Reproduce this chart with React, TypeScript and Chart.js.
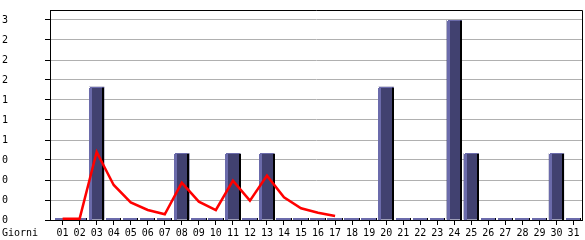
import React, { useEffect, useRef } from "react";
import { Chart, registerables } from "chart.js";

Chart.register(...registerables);

const days = ["01","02","03","04","05","06","07","08","09","10","11","12","13","14","15","16","17","18","19","20","21","22","23","24","25","26","27","28","29","30","31"];
const visits = [0,0,2,0,0,0,0,1,0,0,1,0,1,0,0,0,0,0,0,2,0,0,0,3,1,0,0,0,0,1,0];
const trend: (number | null)[] = [0.02,0.02,1.02,0.525,0.265,0.15,0.085,0.56,0.275,0.15,0.59,0.29,0.665,0.34,0.175,0.11,0.06,null,null,null,null,null,null,null,null,null,null,null,null,null,null];
const yTickValues = [0,0.3,0.6,0.9,1.2,1.5,1.8,2.1,2.4,2.7,3.0];
const yTickLabels = ["0","0","0","0","1","1","1","2","2","2","3"];
const xAxisName = "Giorni";

const FONT = "DejaVu Sans Mono";
const LAVENDER = "#6b6bab";
const FILL = "#414170";

const bar3d = {
  id: "bar3d",
  beforeDatasetsDraw(chart: any) {
    const { ctx, chartArea: a } = chart;
    ctx.save();
    ctx.strokeStyle = "#000";
    ctx.lineWidth = 1;
    ctx.beginPath();
    ctx.moveTo(a.left, a.top + 0.5);
    ctx.lineTo(a.right + 0.5, a.top + 0.5);
    ctx.lineTo(a.right + 0.5, a.bottom);
    ctx.stroke();
    ctx.restore();
  },
  afterDatasetDraw(chart: any, args: any) {
    const meta = args.meta;
    if (meta.type !== "bar") return;
    const ctx = chart.ctx;
    ctx.save();
    meta.data.forEach((el: any) => {
      const p = el.getProps(["x", "y", "base", "width"], true);
      const l = Math.round(p.x - p.width / 2);
      const r = Math.round(p.x + p.width / 2);
      const top = Math.round(p.y);
      const base = Math.round(p.base);
      if (base - top < 2) {
        ctx.fillStyle = LAVENDER;
        ctx.fillRect(l, base - 2, r - l, 2);
        ctx.fillStyle = "#000";
        ctx.fillRect(r - 1, base - 2, 1, 2);
      } else {
        ctx.fillStyle = LAVENDER;
        ctx.fillRect(l, top, 3, base - top);
        ctx.fillRect(l, top, r - l - 2, 1);
        ctx.fillStyle = "#000";
        ctx.fillRect(r - 2, top + 1, 2, base - top - 1);
        ctx.fillStyle = "#fff";
        ctx.fillRect(l, top, 1, 1);
      }
    });
    ctx.restore();
  },
  afterDraw(chart: any) {
    const ctx = chart.ctx;
    ctx.save();
    ctx.font = `10px "${FONT}"`;
    ctx.fillStyle = "#000";
    ctx.textAlign = "left";
    ctx.textBaseline = "middle";
    ctx.fillText(xAxisName, 2, 233);
    ctx.restore();
  },
};

export default function App() {
  const ref = useRef<HTMLCanvasElement>(null);
  useEffect(() => {
    const chart = new Chart(ref.current!, {
      type: "bar",
      data: {
        datasets: [
          {
            type: "line",
            data: trend.map((v, i) => ({ x: i, y: v })) as any,
            borderColor: "#ff0000",
            borderWidth: 2.5,
            pointRadius: 0,
            tension: 0,
            spanGaps: false,
            order: 0,
          } as any,
          {
            type: "bar",
            data: visits.map((v, i) => ({ x: i, y: v })) as any,
            backgroundColor: FILL,
            borderWidth: 0,
            barPercentage: 0.9,
            categoryPercentage: 1,
            order: 1,
          },
        ],
      },
      plugins: [bar3d],
      options: {
        animation: false,
        responsive: false,
        maintainAspectRatio: false,
        layout: { padding: { left: 2, right: 3, top: 10, bottom: 0 } },
        plugins: { legend: { display: false }, tooltip: { enabled: false } },
        scales: {
          x: {
            type: "linear",
            offset: false,
            min: -0.74,
            max: 30.5,
            afterFit: (s: any) => { s.height = 20; },
            afterBuildTicks: (s: any) => { s.ticks = days.map((_, i) => ({ value: i })); },
            ticks: {
              autoSkip: false,
              maxRotation: 0,
              padding: 2,
              color: "#000",
              font: { family: FONT, size: 10 },
              callback: (v: any) => days[v as number],
            },
            grid: { offset: false, drawOnChartArea: false, drawTicks: true, tickLength: 5, tickColor: "#000" },
            border: { display: true, color: "#000", width: 1 },
          },
          y: {
            min: 0,
            max: 3.15,
            afterFit: (s: any) => { s.width = 48; },
            afterBuildTicks: (s: any) => { s.ticks = yTickValues.map((v) => ({ value: v })); },
            ticks: {
              crossAlign: "far",
              color: "#000",
              font: { family: FONT, size: 10 },
              callback: (_v: any, i: number) => yTickLabels[i],
            },
            grid: { color: "#b0b0b0", lineWidth: 1, tickLength: 5, tickColor: "#000" },
            border: { display: true, color: "#000", width: 1 },
          },
        },
      },
    });
    return () => chart.destroy();
  }, []);
  return (
    <div style={{ position: "fixed", left: 0, top: 0, width: 585, height: 240, background: "#fff" }}>
      <canvas ref={ref} width={585} height={240} style={{ width: 585, height: 240 }} />
    </div>
  );
}
